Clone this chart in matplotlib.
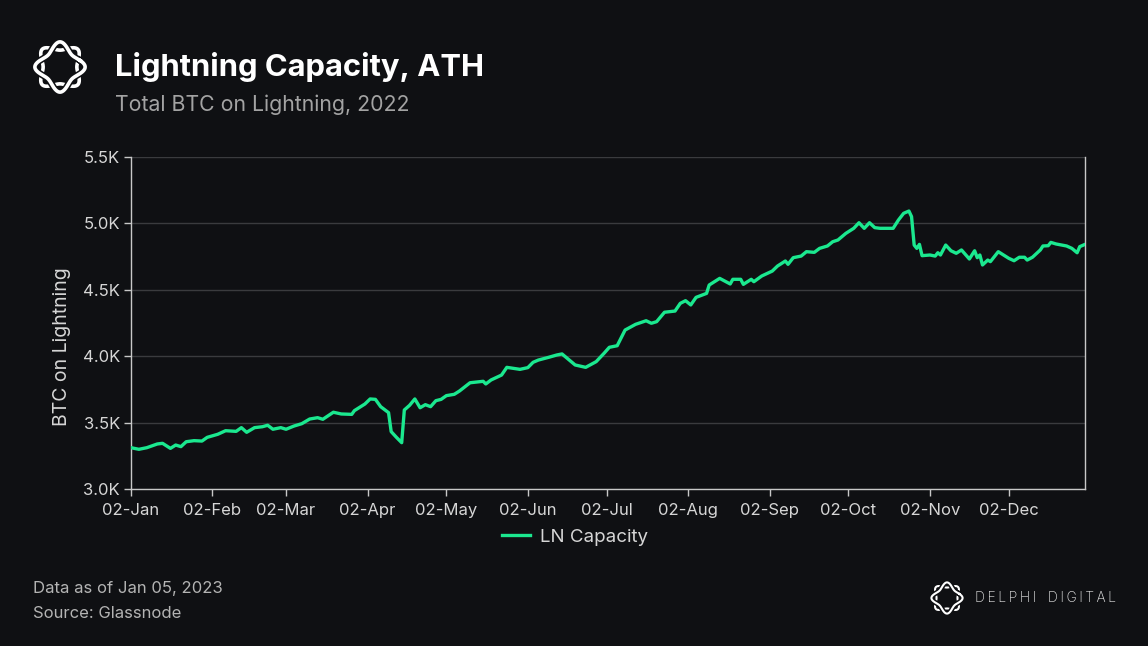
import numpy as np
import matplotlib
matplotlib.use("Agg")
import matplotlib.pyplot as plt
import matplotlib.dates as mdates
import matplotlib.patheffects as pe

# ---------------- data ----------------
start_date = "2022-01-02"
day_offsets = [0, 3, 6, 10, 12, 15, 17, 19, 21, 24, 27, 29, 33, 36, 40, 42, 44, 47, 50, 52,
               54, 57, 59, 62, 65, 68, 71, 73, 77, 80, 84, 85, 89, 91, 93, 95, 98, 99, 101, 103,
               104, 106, 108, 110, 112, 114, 116, 118, 120, 123, 125, 129, 134, 135, 137, 141, 143, 148, 151, 153,
               155, 159, 162, 164, 166, 169, 173, 177, 180, 182, 185, 188, 192, 196, 198, 200, 203, 207, 209, 211,
               213, 215, 219, 220, 224, 228, 229, 232, 233, 236, 237, 240, 244, 246, 249, 250, 252, 255, 257, 260,
               262, 265, 267, 269, 272, 275, 277, 279, 281, 283, 285, 290, 292, 294, 296, 297, 298, 299, 300, 301,
               304, 306, 307, 308, 310, 312, 314, 316, 319, 321, 322, 323, 324, 326, 327, 330, 334, 336, 338, 340,
               341, 343, 346, 347, 349, 350, 352, 356, 358, 360, 361, 363, 364]
ln_capacity = [3311, 3299, 3311, 3339, 3344, 3306, 3331, 3319, 3356, 3364, 3361, 3389, 3412, 3439, 3434, 3462, 3427, 3462, 3469, 3480,
               3450, 3462, 3450, 3474, 3492, 3527, 3537, 3525, 3578, 3565, 3562, 3590, 3640, 3678, 3675, 3620, 3575, 3432, 3389, 3349,
               3595, 3630, 3678, 3612, 3635, 3620, 3665, 3675, 3703, 3713, 3738, 3800, 3811, 3791, 3821, 3858, 3916, 3901, 3914, 3954,
               3971, 3992, 4009, 4017, 3984, 3934, 3916, 3959, 4022, 4067, 4079, 4197, 4240, 4267, 4248, 4260, 4331, 4340, 4398, 4418,
               4386, 4443, 4473, 4536, 4586, 4544, 4579, 4579, 4541, 4579, 4561, 4604, 4641, 4679, 4717, 4692, 4742, 4754, 4787, 4782,
               4812, 4830, 4862, 4875, 4925, 4963, 5005, 4963, 5005, 4968, 4963, 4963, 5025, 5076, 5093, 5051, 4837, 4812, 4842, 4757,
               4762, 4754, 4779, 4762, 4837, 4794, 4775, 4800, 4732, 4794, 4742, 4762, 4687, 4724, 4712, 4787, 4737, 4719, 4745, 4745,
               4724, 4745, 4800, 4830, 4832, 4857, 4845, 4830, 4812, 4779, 4825, 4842, 4830]
series_name = "LN Capacity"
y_ticks = [3000, 3500, 4000, 4500, 5000, 5500]
y_tick_labels = ["3.0K", "3.5K", "4.0K", "4.5K", "5.0K", "5.5K"]
x_tick_dates = ["2022-%02d-02" % m for m in range(1, 13)]

title = "Lightning Capacity, ATH"
subtitle = "Total BTC on Lightning, 2022"
y_label = "BTC on Lightning"
footer_lines = ["Data as of Jan 05, 2023", "Source: Glassnode"]
brand_words = ["DELPHI", "DIGITAL"]

# ---------------- style ----------------
BG = "#0f1013"
GREEN = "#1be88f"
GRID = "#3a3b3e"
SPINE = "#c8c8c8"
TXT = "#d6d6d6"
plt.rcParams["font.family"] = ["Inter", "DejaVu Sans"]

W, H = 1148, 646
fig = plt.figure(figsize=(W / 100, H / 100), dpi=100, facecolor=BG)

def fx(px):
    return px / W

def fy(py):
    return 1 - py / H

ax = fig.add_axes([fx(131), fy(489), fx(1085) - fx(131), fy(157) - fy(489)], facecolor=BG)

dates = np.datetime64(start_date) + np.array(day_offsets).astype("timedelta64[D]")
ax.plot(dates, ln_capacity, color=GREEN, lw=2.4, solid_joinstyle="round", label=series_name, zorder=3)

ax.set_ylim(3000, 5500)
ax.set_xlim(np.datetime64("2022-01-02"), np.datetime64("2022-12-31"))
ax.set_yticks(y_ticks)
ax.set_yticklabels(y_tick_labels)
ax.set_xticks([np.datetime64(d) for d in x_tick_dates])
ax.xaxis.set_major_formatter(mdates.DateFormatter("%d-%b"))

ax.grid(axis="y", color=GRID, lw=1)
ax.grid(axis="x", visible=False)
ax.set_axisbelow(True)
for s in ["left", "bottom", "right"]:
    ax.spines[s].set_color(SPINE)
    ax.spines[s].set_linewidth(1)
ax.spines["top"].set_visible(False)
ax.tick_params(axis="both", colors=SPINE, labelcolor=TXT, labelsize=12, length=5, width=1)
ax.tick_params(axis="x", pad=5)
ax.tick_params(axis="y", pad=3)

ax.set_ylabel(y_label, color=TXT, fontsize=14, va="center")
ax.yaxis.set_label_coords((62 - 131) / 954, (489 - 347) / 332)

leg = ax.legend(loc="center", bbox_to_anchor=((575 - 131) / 954, (489 - 537) / 332), frameon=False,
                fontsize=13.5, labelcolor=TXT, handlelength=1.5, handletextpad=0.5)

# ---------------- header ----------------
fig.text(fx(115), fy(67), title, color="white", fontsize=22.3, fontweight="bold", va="center", ha="left")
fig.text(fx(115), fy(105), subtitle, color="#a3a3a3", fontsize=15.3, va="center", ha="left")

# ---------------- footer ----------------
fig.text(fx(33), fy(589), footer_lines[0], color="#b4b4b4", fontsize=12, va="center", ha="left")
fig.text(fx(33), fy(613), footer_lines[1], color="#b4b4b4", fontsize=12, va="center", ha="left")

# ---------------- logos ----------------
def draw_logo(cx, cy, r, lw):
    lax = fig.add_axes([fx(cx - r), fy(cy + r), fx(2 * r), fx(2 * r) * W / H])
    lax.set_xlim(-1.05, 1.05)
    lax.set_ylim(-1.05, 1.05)
    lax.set_aspect("equal")
    lax.axis("off")
    t = np.linspace(0, 2 * np.pi, 600)
    for k in range(2):
        ph = k * np.pi
        rr = 0.76 + 0.15 * np.sin(4 * t + ph)
        ang = t + 0.07 * np.cos(4 * t + ph) + np.pi / 8
        lax.plot(rr * np.cos(ang), rr * np.sin(ang), color="white", lw=lw,
                 path_effects=[pe.Stroke(linewidth=lw + 2.2, foreground=BG), pe.Normal()])

draw_logo(60, 67, 29, 2.6)
draw_logo(947, 598, 18, 1.5)
brand_text = "   ".join("\u2009".join(list(w)) for w in brand_words)
fig.text(fx(975), fy(598), brand_text, color="#e8e8e8", fontsize=10, va="center", ha="left",
         fontweight="light")

fig.savefig("out.png", dpi=100, facecolor=BG)
